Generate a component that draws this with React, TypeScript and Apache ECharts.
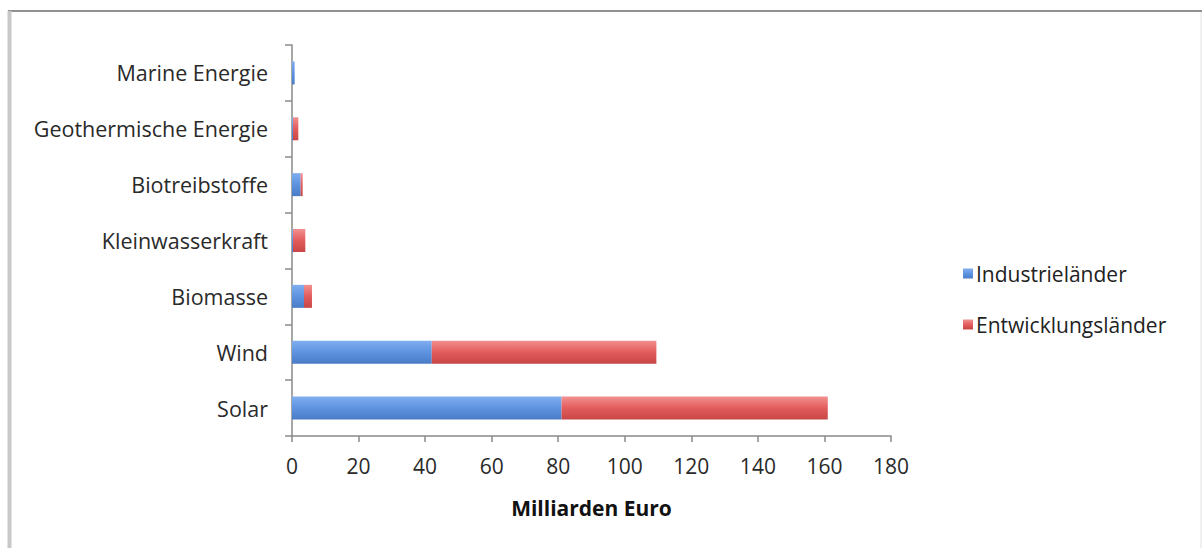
import React, { useEffect, useRef } from "react";
import * as echarts from "echarts";

const categories = [
  "Solar",
  "Wind",
  "Biomasse",
  "Kleinwasserkraft",
  "Biotreibstoffe",
  "Geothermische Energie",
  "Marine Energie",
];
const industrie = [81, 42, 3.6, 0.3, 2.6, 0.3, 0.8];
const entwicklung = [80, 67.5, 2.4, 3.7, 0.6, 1.6, 0];
const seriesNames = ["Industrieländer", "Entwicklungsländer"];
const xAxisName = "Milliarden Euro";

const FONT = "'Open Sans', sans-serif";

const blueGrad = new echarts.graphic.LinearGradient(0, 0, 0, 1, [
  { offset: 0, color: "#80aef0" },
  { offset: 0.5, color: "#5e93e0" },
  { offset: 1, color: "#4a7cc6" },
]);
const redGrad = new echarts.graphic.LinearGradient(0, 0, 0, 1, [
  { offset: 0, color: "#f29090" },
  { offset: 0.5, color: "#e35c5c" },
  { offset: 1, color: "#c84646" },
]);

export default function App() {
  const ref = useRef<HTMLDivElement>(null);
  useEffect(() => {
    document.body.style.margin = "0";
    const chart = echarts.init(ref.current!, null, { renderer: "svg" });
    chart.setOption({
      animation: false,
      backgroundColor: "#ffffff",
      textStyle: { fontFamily: FONT },
      grid: { left: 292, right: 311, top: 45, bottom: 112, containLabel: false },
      legend: {
        orient: "vertical",
        left: 958,
        top: 258,
        itemWidth: 10,
        itemHeight: 10,
        itemGap: 30,
        icon: "rect",
        data: seriesNames,
        textStyle: { fontFamily: FONT, fontSize: 21, color: "#222", padding: [0, 0, 0, -2] },
      },
      xAxis: {
        type: "value",
        min: 0,
        max: 180,
        interval: 20,
        name: xAxisName,
        nameLocation: "middle",
        nameGap: 61,
        nameTextStyle: { fontFamily: FONT, fontSize: 21, fontWeight: "bold", color: "#111" },
        axisLine: { show: true, lineStyle: { color: "#8a8a8a", width: 1.5 } },
        axisTick: { show: true, length: 6, lineStyle: { color: "#8a8a8a", width: 1.5 } },
        axisLabel: { fontFamily: FONT, fontSize: 21, color: "#2a2a2a", margin: 19 },
        splitLine: { show: false },
      },
      yAxis: {
        type: "category",
        data: categories,
        axisLine: { show: true, lineStyle: { color: "#8a8a8a", width: 1.5 } },
        axisTick: { show: true, length: 7, lineStyle: { color: "#8a8a8a", width: 1.5 } },
        axisLabel: { fontFamily: FONT, fontSize: 21.5, color: "#2a2a2a", margin: 24 },
      },
      series: [
        {
          name: seriesNames[0],
          type: "bar",
          stack: "total",
          data: industrie,
          barWidth: 23,
          itemStyle: { color: blueGrad },
        },
        {
          name: seriesNames[1],
          type: "bar",
          stack: "total",
          data: entwicklung,
          barWidth: 23,
          itemStyle: { color: redGrad },
        },
      ],
      graphic: [
        { type: "line", shape: { x1: 8, y1: 11, x2: 1202, y2: 11 }, style: { stroke: "#909090", lineWidth: 2 } },
        { type: "line", shape: { x1: 9.5, y1: 11, x2: 9.5, y2: 548 }, style: { stroke: "#c8c8c8", lineWidth: 4 } },
        { type: "line", shape: { x1: 1201, y1: 12, x2: 1201, y2: 548 }, style: { stroke: "#e2e2e2", lineWidth: 1 } },
      ],
    });
    return () => chart.dispose();
  }, []);
  return <div ref={ref} style={{ width: 1202, height: 548 }} />;
}
